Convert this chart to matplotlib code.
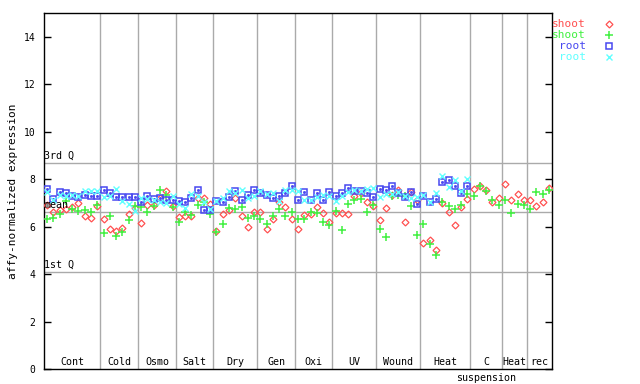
import numpy as np
import matplotlib
matplotlib.use("Agg")
import matplotlib.pyplot as plt

plt.rcParams['font.family'] = ['DejaVu Sans Mono']

# groups and how many samples each one holds
groups = ["Cont", "Cold", "Osmo", "Salt", "Dry", "Gen", "Oxi", "UV",
          "Wound", "Heat", "C", "Heat", "rec"]
group_sizes = [9, 6, 6, 6, 7, 6, 6, 7, 7, 8, 5, 4, 4]

# quartile lines
q1, mean, q3 = 4.09, 6.63, 8.68

nan = np.nan
shoot_red = [6.92, 6.61, 6.70, 6.75, 6.83, 7.00, 6.46, 6.35, 6.86,
             6.31, 5.90, 5.82, 5.93, 6.52, 6.80,
             6.14, 6.90, 6.90, 7.20, 7.51, 6.85,
             6.41, 6.46, 6.46, 7.22, 7.22, 6.95,
             5.82, 6.52, 6.72, 7.20, 6.44, 5.99, 6.61,
             6.61, 5.90, 6.32, 7.05, 6.83, 6.32,
             5.90, 6.49, 6.55, 6.83, 6.58, 6.20,
             6.58, 6.57, 6.53, 7.30, 7.41, 7.03, 6.86,
             6.27, 6.77, 7.35, 7.56, 6.20, 7.44, 7.14,
             5.31, 5.42, 5.01, 7.01, 6.61, 6.07, 6.83, 7.16,
             7.58, 7.72, 7.55, 7.02, 7.20,
             7.79, 7.11, 7.37, 7.11,
             7.14, 6.86, 7.03, 7.62]
shoot_green = [6.30, 6.38, 6.55, 7.08, 6.75, 6.66, 6.70, 6.60, 6.92,
               5.75, 6.45, 5.61, 5.79, 6.28, 6.87,
               6.83, 6.62, 6.85, 7.53, 7.34, 6.83,
               6.18, 6.63, 6.47, 6.92, 7.03, 6.55,
               5.79, 6.10, 6.77, 6.74, 6.84, 6.35, 6.43,
               6.31, 6.11, 6.45, 6.73, 6.45, 6.63,
               6.31, 6.31, 6.63, 6.56, 6.21, 6.07,
               6.65, 5.86, 6.95, 7.10, 7.16, 6.62, 6.90,
               5.89, 5.55, 7.27, 7.34, 7.31, 6.88, 5.65,
               6.11, 5.27, 4.80, 7.03, 6.86, 6.75, 6.91, 7.37,
               7.27, 7.69, 7.48, 7.13, 6.90,
               7.11, 6.58, 6.94, 6.89,
               6.75, 7.45, 7.37, 7.53]
root_blue = [7.58, 7.17, 7.45, 7.40, 7.31, 7.26, 7.34, 7.28, 7.28,
             7.56, 7.41, 7.26, 7.25, 7.25, 7.25,
             7.03, 7.28, 7.17, 7.20, 7.11, 7.11,
             7.06, 7.03, 7.20, 7.53, 6.69, 6.72,
             7.06, 7.03, 7.25, 7.50, 7.11, 7.34, 7.53,
             7.42, 7.34, 7.20, 7.31, 7.42, 7.73,
             7.11, 7.45, 7.13, 7.42, 7.11, 7.45,
             7.28, 7.40, 7.62, 7.51, 7.51, 7.42, 7.25,
             7.59, 7.53, 7.73, 7.42, 7.25, 7.45, 6.94,
             7.31, 7.03, 7.17, 7.87, 7.96, 7.73, 7.42, 7.70] + [nan] * 13
root_cyan = [7.45, 7.13, 7.35, 7.30, 7.35, 7.30, 7.52, 7.50, 7.52,
             7.23, 7.27, 7.58, 7.06, 6.96, 6.66,
             7.20, 7.15, 7.10, 7.05, 7.00, 7.28,
             6.94, 6.80, 7.37, 7.28, 7.03, 6.75,
             7.08, 7.22, 7.48, 7.42, 7.56, 7.22, 7.28,
             7.50, 7.37, 7.40, 7.08, 7.53, 7.56,
             7.50, 7.11, 7.13, 7.25, 7.34, 7.31,
             7.08, 7.30, 7.45, 7.53, 7.50, 7.59, 7.62,
             7.25, 7.37, 7.37, 7.45, 7.30, 7.20, 7.25,
             7.34, 7.03, 7.40, 8.12, 7.67, 7.96, 7.51, 8.01] + [nan] * 13

red = '#ff5050'
green = '#40f040'
blue = '#4848f0'
cyan = '#60ffff'
grid = '#aaaaaa'

n = sum(group_sizes)
x = np.arange(n) + 0.5
edges = np.cumsum([0] + group_sizes)

fig = plt.figure(figsize=(6.4, 3.84), dpi=100)
ax = fig.add_axes([44/640, 15/384, 508/640, 356/384])

for e in edges[1:-1]:
    ax.axvline(e, color=grid, lw=1, zorder=1)
for q in (q1, mean, q3):
    ax.axhline(q, color=grid, lw=1, zorder=1)

ax.plot(x, shoot_red, ls='none', marker='D', ms=3.5, mfc='none', mec=red, mew=0.9, zorder=3)
ax.plot(x, shoot_green, ls='none', marker='+', ms=6, mec=green, mew=1.1, zorder=3)
ax.plot(x, root_blue, ls='none', marker='s', ms=4.8, mfc='none', mec=blue, mew=1.1, zorder=3)
ax.plot(x, root_blue, ls='none', marker='s', ms=1, mfc=blue, mec=blue, zorder=3)
ax.plot(x, root_cyan, ls='none', marker='x', ms=4.5, mec=cyan, mew=1.0, zorder=3)

ax.set_xlim(0, n)
ax.set_ylim(0, 15)
ax.set_xticks([])
ax.set_yticks(range(0, 15, 2))
ax.tick_params(axis='y', direction='in', length=5, width=1, right=True, pad=6, labelsize=7)
for s in ax.spines.values():
    s.set_linewidth(1)
ax.set_ylabel("affy-normalized expression", fontsize=8, labelpad=4)

fs = 7.2
for g, a, b in zip(groups, edges[:-1], edges[1:]):
    ax.text((a + b) / 2, 0.1, g, ha='center', va='bottom', fontsize=fs)
ax.text((edges[10] + edges[11]) / 2, -0.15, "suspension", ha='center', va='top', fontsize=fs)

ax.text(0.05, q3 + 0.08, "3rd Q", ha='left', va='bottom', fontsize=fs)
ax.text(0.05, mean + 0.08, "mean", ha='left', va='bottom', fontsize=fs)
ax.text(0.05, q1 + 0.08, "1st Q", ha='left', va='bottom', fontsize=fs)

# legend drawn by hand to the right of the plot
legend = [("shoot", red, dict(marker='D', ms=3.5, mfc='none', mew=0.9)),
          ("shoot", green, dict(marker='+', ms=6, mew=1.1)),
          ("root", blue, dict(marker='s', ms=4.5, mfc='none', mew=1.1)),
          ("root", cyan, dict(marker='x', ms=4.5, mew=1.0))]
for k, (lab, col, mk) in enumerate(legend):
    yy = 1 - (24 + 11 * k) / 384
    fig.text(586/640, yy, lab, color=col, ha='right', va='center', fontsize=8)
    fig.add_artist(plt.Line2D([609/640], [yy], ls='none', mec=col, transform=fig.transFigure, **mk))

fig.savefig("out.png", dpi=100)
